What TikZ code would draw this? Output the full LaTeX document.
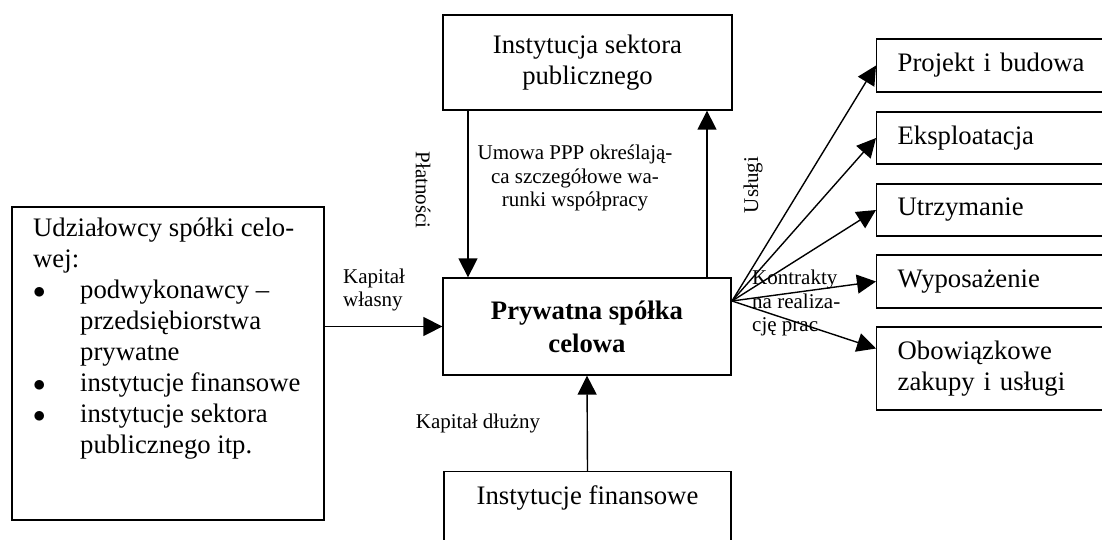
\documentclass[tikz,border=0pt]{standalone}
\usepackage{fontspec}
\setmainfont{Liberation Serif}
\usetikzlibrary{arrows.meta}
\begin{document}
\begin{tikzpicture}[x=1pt,y=-1pt]
        \tikzstyle{box}=[rectangle, draw, line width=1.3pt, inner sep=0pt, font=\fontsize{26.7pt}{31pt}\selectfont]
        \tikzstyle{rbox}=[box, anchor=west, inner xsep=21pt, text width=220pt, align=left]
        \tikzstyle{big}=[inner sep=0pt, font=\fontsize{26.7pt}{31pt}\selectfont]
        \tikzstyle{lbl}=[inner sep=0pt, font=\fontsize{21pt}{23.5pt}\selectfont]
        \tikzstyle{arr}=[line width=1.4pt, -{Triangle[length=19pt,width=19pt]}]

        \useasboundingbox (0,0) rectangle (1102,539);

        \node[box, minimum width=289pt, minimum height=95pt, align=center] (isp) at (587.5,62.5) {Instytucja sektora\\publicznego};
        \node[box, minimum width=288pt, minimum height=97pt, align=center, font=\fontsize{26.7pt}{33pt}\selectfont\bfseries] (spv) at (587,326.5) {Prywatna spółka\\celowa};
        \node[box, minimum width=312pt, minimum height=313pt] (udz) at (168,363.5) {};
        \node[big, anchor=north west, align=left] (udztxt) at (33,218) {Udziałowcy spółki celo-\\wej:\\
          \makebox[47pt][l]{$\bullet$}podwykonawcy –\\
          \makebox[47pt][l]{}przedsiębiorstwa\\
          \makebox[47pt][l]{}prywatne\\
          \makebox[47pt][l]{$\bullet$}instytucje finansowe\\
          \makebox[47pt][l]{$\bullet$}instytucje sektora\\
          \makebox[47pt][l]{}publicznego itp.};
        \node[box, anchor=north, minimum width=287pt, minimum height=110pt] (inf) at (587.5,471) {};
        \node[big] (inftxt) at (587.5,498) {Instytucje finansowe};

        \node[rbox, minimum height=53pt] (prj) at (876,65.5) {Projekt i budowa};
        \node[rbox, minimum height=52pt] (eks) at (876,138) {Eksploatacja};
        \node[rbox, minimum height=52pt] (utr) at (876,210) {Utrzymanie};
        \node[rbox, minimum height=53pt] (wyp) at (876,281.5) {Wyposażenie};
        \node[rbox, minimum height=83pt] (obw) at (876,368.5) {Obowiązkowe\\zakupy i usługi};

        \coordinate (pay) at (468,0);
        \coordinate (srv) at (707,0);
        \coordinate (fan) at (732,301);

        \draw[arr] (isp.south -| pay) -- (spv.north -| pay);
        \draw[arr] (spv.north -| srv) -- (isp.south -| srv);
        \draw[arr] (udz.east |- spv.west) -- (spv.west);
        \draw[arr] (inf.north) -- (spv.south);
        \draw[arr] (fan) -- (prj.west);
        \draw[arr] (fan) -- (eks.west);
        \draw[arr] (fan) -- (utr.west);
        \draw[arr] (fan) -- (wyp.west);
        \draw[arr] (fan) -- ([yshift=20pt]obw.west);

        \node[lbl, rotate=-90] (plat) at (423,190) {Płatności};
        \node[lbl, rotate=90] (usl) at (753,185) {Usługi};
        \node[lbl, align=center] (umowa) at (575,178) {Umowa PPP określają-\\ca szczegółowe wa-\\runki współpracy};
        \node[lbl, anchor=west, align=left] (kw) at (343,290) {Kapitał\\własny};
        \node[lbl] (kd) at (478,423) {Kapitał dłużny};
        \node[lbl, anchor=west, align=left] (kontr) at (752,303) {Kontrakty\\na realiza-\\cję prac};
    \end{tikzpicture}
\end{document}
